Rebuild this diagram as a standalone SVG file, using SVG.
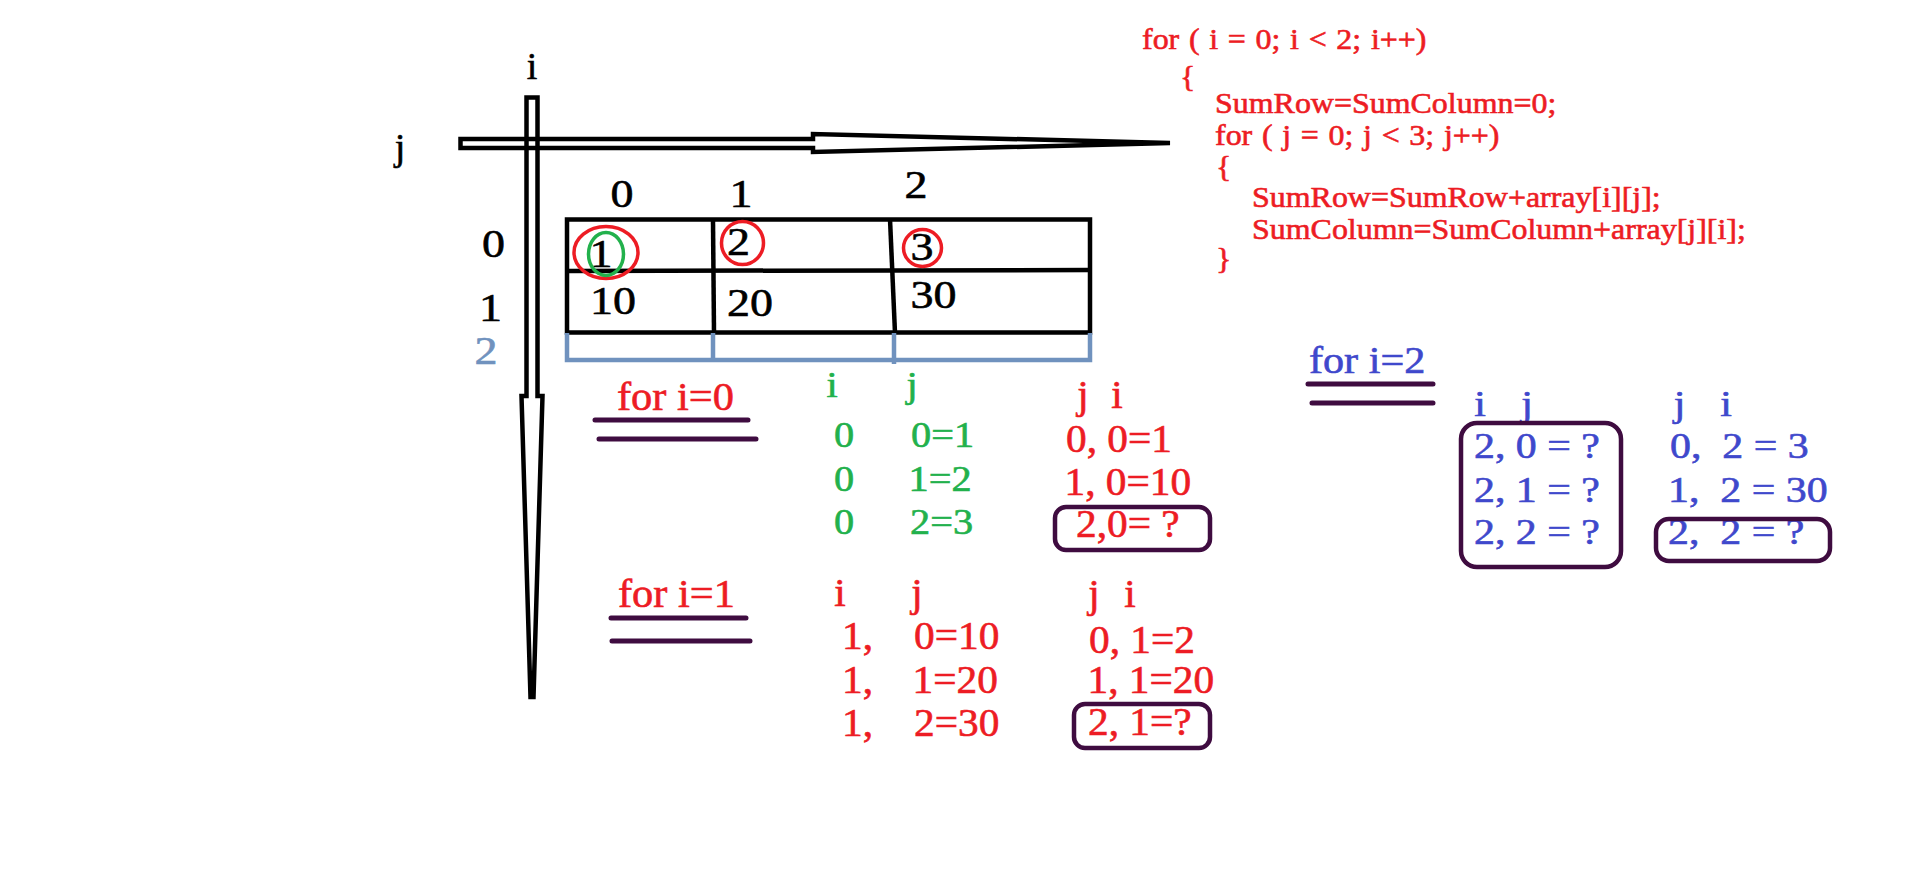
<svg xmlns="http://www.w3.org/2000/svg" width="1914" height="887" viewBox="0 0 1914 887">
<style>
text{font-family:"Liberation Serif","Times New Roman",serif;stroke-width:0.6px}
.blk{fill:#000;stroke:#000}
.red{fill:#ED1C24;stroke:#ED1C24}
.grn{fill:#22B14C;stroke:#22B14C}
.blu{fill:#3F48CC;stroke:#3F48CC}
.gry{fill:#7092BE;stroke:#7092BE}
.code{font-size:30px}
.ws{word-spacing:1.6px}
.tb{font-size:40px;text-anchor:middle}
.rd{font-size:39px}
.gd{font-size:36px}
.bd{font-size:35.5px}
.hd{font-size:40px}
.ax{font-size:38px;text-anchor:middle}
.mid{text-anchor:middle}
.line{stroke:#000;stroke-width:4.5;fill:none}
.ul{stroke:#3F0C40;stroke-width:5;stroke-linecap:round;fill:none}
.box{stroke:#3F0C40;stroke-width:4.5;fill:none}
</style>
<rect width="1914" height="887" fill="#fff"/>

<g id="axes">
<path class="line" d="M460.5 139 H813 V134 L1170 143 L813 152 V148 H460.5 Z"/>
<path class="line" d="M526.5 97.5 H537.5 V396 H542.5 L533.5 697 H530.5 L521.5 396 H526.5 Z"/>
<text class="ax blk" x="532" y="79">i</text>
<text class="ax blk" x="400" y="160">j</text>
</g>

<g id="table">
<path class="line" d="M567 219.5 H1090 V332.5 H567 Z"/>
<path class="line" d="M567 271 L1090 270"/>
<path class="line" d="M713 221 L714 333"/>
<path class="line" d="M890 219 L895 333"/>
<path d="M567 333 V360 H1090 V333 M713 333 V360 M894 333 V364" stroke="#7092BE" stroke-width="4.5" fill="none"/>
<text class="tb blk" transform="translate(622 207) scale(1.15 1)">0</text>
<text class="tb blk" transform="translate(741 207) scale(1.15 1)">1</text>
<text class="tb blk" transform="translate(916 198) scale(1.15 1)">2</text>
<text class="tb blk" transform="translate(493.5 257) scale(1.15 1)">0</text>
<text class="tb blk" transform="translate(490.5 321) scale(1.15 1)">1</text>
<text class="tb gry" transform="translate(486 364) scale(1.15 1)">2</text>
<text class="tb blk" transform="translate(601 267) scale(1.15 1)">1</text>
<text class="tb blk" transform="translate(738.5 255) scale(1.15 1)">2</text>
<text class="tb blk" transform="translate(922 260) scale(1.15 1)">3</text>
<text class="tb blk" transform="translate(613 314) scale(1.15 1)">10</text>
<text class="tb blk" transform="translate(750 316) scale(1.15 1)">20</text>
<text class="tb blk" transform="translate(933.5 308) scale(1.15 1)">30</text>
<ellipse cx="606" cy="252.5" rx="32" ry="26" stroke="#ED1C24" stroke-width="3.5" fill="none"/>
<ellipse cx="606" cy="254" rx="17.5" ry="21.5" stroke="#22B14C" stroke-width="3.5" fill="none"/>
<ellipse cx="742.5" cy="243" rx="21" ry="21.5" stroke="#ED1C24" stroke-width="3.5" fill="none"/>
<ellipse cx="922.5" cy="248" rx="19" ry="18.5" stroke="#ED1C24" stroke-width="3.5" fill="none"/>
</g>

<g id="code">
<text class="code ws red" transform="translate(1142 49) scale(1.065 1)">for ( i = 0; i &lt; 2; i++)</text>
<text class="code red" transform="translate(1180 86) scale(1.065 1)">{</text>
<text class="code red" transform="translate(1215 113) scale(1.065 1)">SumRow=SumColumn=0;</text>
<text class="code ws red" transform="translate(1215 145) scale(1.065 1)">for ( j = 0; j &lt; 3; j++)</text>
<text class="code red" transform="translate(1216 176) scale(1.065 1)">{</text>
<text class="code red" transform="translate(1252 207) scale(1.065 1)">SumRow=SumRow+array[i][j];</text>
<text class="code red" transform="translate(1252 239) scale(1.065 1)">SumColumn=SumColumn+array[j][i];</text>
<text class="code red" transform="translate(1216 268) scale(1.065 1)">}</text>
</g>

<g id="block-i0">
<text class="hd red" transform="translate(617 410) scale(1.06 1)">for i=0</text>
<path class="ul" d="M595 420 H748 M599 439 H756"/>
<text class="gd grn mid" transform="translate(832 397) scale(1.12 1)">i</text>
<text class="gd grn mid" transform="translate(912 397) scale(1.12 1)">j</text>
<text class="gd grn mid" transform="translate(844 447) scale(1.12 1)">0</text>
<text class="gd grn mid" transform="translate(844 491) scale(1.12 1)">0</text>
<text class="gd grn mid" transform="translate(844 534) scale(1.12 1)">0</text>
<text class="gd grn" transform="translate(911 447) scale(1.12 1)">0=1</text>
<text class="gd grn" transform="translate(908.5 491) scale(1.12 1)">1=2</text>
<text class="gd grn" transform="translate(910 534) scale(1.12 1)">2=3</text>
<text class="rd red mid" transform="translate(1083 408) scale(1.06 1)">j</text>
<text class="rd red mid" transform="translate(1117 408) scale(1.06 1)">i</text>
<text class="rd red" transform="translate(1066 452) scale(1.06 1)">0, 0=1</text>
<text class="rd red" transform="translate(1064.5 495) scale(1.06 1)">1, 0=10</text>
<text class="rd red" transform="translate(1076 537) scale(1.06 1)">2,0= ?</text>
<rect class="box" x="1055" y="507" width="155" height="43" rx="11"/>
</g>

<g id="block-i1">
<text class="hd red" transform="translate(618 607) scale(1.06 1)">for i=1</text>
<path class="ul" d="M611 618 H746 M612 641 H750"/>
<text class="rd red mid" transform="translate(840 606) scale(1.06 1)">i</text>
<text class="rd red mid" transform="translate(917 606) scale(1.06 1)">j</text>
<text class="rd red" transform="translate(842 649) scale(1.06 1)">1,</text>
<text class="rd red" transform="translate(842 693) scale(1.06 1)">1,</text>
<text class="rd red" transform="translate(842 736) scale(1.06 1)">1,</text>
<text class="rd red" transform="translate(914 649) scale(1.06 1)">0=10</text>
<text class="rd red" transform="translate(912.5 693) scale(1.06 1)">1=20</text>
<text class="rd red" transform="translate(914 736) scale(1.06 1)">2=30</text>
<text class="rd red mid" transform="translate(1094 607) scale(1.06 1)">j</text>
<text class="rd red mid" transform="translate(1130 607) scale(1.06 1)">i</text>
<text class="rd red" transform="translate(1089 653) scale(1.06 1)">0, 1=2</text>
<text class="rd red" transform="translate(1087.5 693) scale(1.06 1)">1, 1=20</text>
<text class="rd red" transform="translate(1088 735) scale(1.06 1)">2, 1=?</text>
<rect class="box" x="1074" y="704" width="136" height="44" rx="11"/>
</g>

<g id="block-i2">
<text class="blu" style="font-size:38px" transform="translate(1309 373) scale(1.11 1)">for i=2</text>
<path class="ul" d="M1308 384 H1433 M1312 403 H1433"/>
<text class="bd blu mid" transform="translate(1480 416) scale(1.18 1)">i</text>
<text class="bd blu mid" transform="translate(1527 416) scale(1.18 1)">j</text>
<text class="bd blu" transform="translate(1474 458) scale(1.18 1)">2, 0 = ?</text>
<text class="bd blu" transform="translate(1474 502) scale(1.18 1)">2, 1 = ?</text>
<text class="bd blu" transform="translate(1474 544) scale(1.18 1)">2, 2 = ?</text>
<rect class="box" x="1461" y="423" width="160" height="144" rx="16"/>
<text class="bd blu mid" transform="translate(1679.5 416) scale(1.18 1)">j</text>
<text class="bd blu mid" transform="translate(1726 416) scale(1.18 1)">i</text>
<text class="bd blu" xml:space="preserve" transform="translate(1670 458) scale(1.18 1)">0,  2 = 3</text>
<text class="bd blu" xml:space="preserve" transform="translate(1668 502) scale(1.18 1)">1,  2 = 30</text>
<text class="bd blu" xml:space="preserve" transform="translate(1668 544) scale(1.18 1)">2,  2 = ?</text>
<rect class="box" x="1656" y="519" width="174" height="42" rx="13"/>
</g>
</svg>
